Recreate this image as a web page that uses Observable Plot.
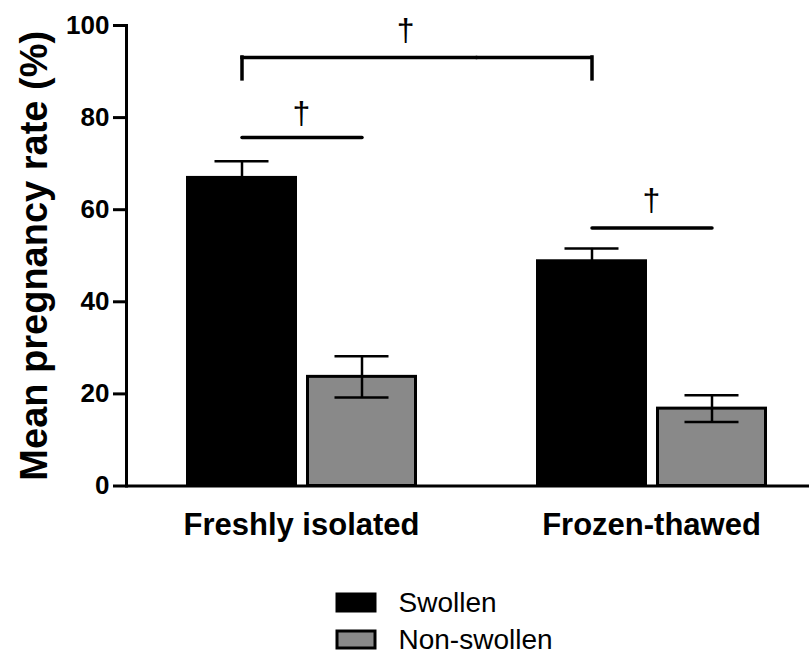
<!DOCTYPE html>
<html>
<head>
<meta charset="utf-8">
<script src="https://cdn.jsdelivr.net/npm/d3@7"></script>
<script src="https://cdn.jsdelivr.net/npm/@observablehq/plot@0.6"></script>
<style>
  body { margin: 0; background: #fff; }
  #chart { width: 809px; }
  .lg-swatches { font-family: "Liberation Sans", Arial, sans-serif; font-size: 28px; color: #000; margin-top: 4px; margin-bottom: 0; }
  .lg-swatches .lg-swatch { line-height: 37px; padding-bottom: 0; }
  .lg-swatches .lg-swatch > svg { margin-right: 24px; overflow: visible; }
  .lg-swatches .lg-swatch rect { stroke: #000; stroke-width: 3px; }
</style>
</head>
<body>
<div id="chart"></div>
<script>
// ---- data ----
const groups = ["Freshly isolated", "Frozen-thawed"];
const series = ["Swollen", "Non-swollen"];
const swollenMean = [66.9, 48.8];
const swollenSem = [3.6, 2.8];
const nonSwollenMean = [23.7, 16.8];
const nonSwollenSem = [4.5, 2.9];
const yTicks = [0, 20, 40, 60, 80, 100];
const seriesColors = ["#000000", "#898989"];
const yLabel = "Mean pregnancy rate (%)";
const sigMark = "\u2020";
// significance annotations (y values in %)
const withinBracketY = [75.7, 56.0];
const withinMarkY = [80.8, 62.0];
const acrossBracketY = 93.05;
const acrossLegBottom = 88.3;
const acrossMarkY = 98.9;

// ---- tables built from the arrays ----
const rows = groups.flatMap((g, i) => [
  {group: g, series: series[0], mean: swollenMean[i], sem: swollenSem[i]},
  {group: g, series: series[1], mean: nonSwollenMean[i], sem: nonSwollenSem[i]}
]);
const within = groups.flatMap((g, i) => series.map(s => ({id: g, group: g, series: s, y: withinBracketY[i]})));
const withinText = groups.map((g, i) => ({group: g, y: withinMarkY[i]}));
const acrossLegs = groups.map(g => ({group: g, series: series[0], y1: acrossLegBottom, y2: acrossBracketY}));
// the across-group bracket runs from the Swollen bar of the first group to the Swollen bar of the second
const acrossLeft = [{group: groups[0], from: series[0], to: series[1], y: acrossBracketY}];
const acrossRight = [{group: groups[1], from: series[0], to: series[0], y: acrossBracketY}];
const acrossText = [{group: groups[0], y: acrossMarkY}];

const font = "'Liberation Sans', Arial, Helvetica, sans-serif";
const halfBar = 54.5;   // half of a bar's width
const edgeGap = 60;     // from the outer bar edge to the facet edge

const chart = Plot.plot({
  width: 809,
  height: 580,
  marginTop: 25,
  marginBottom: 94.5,
  marginLeft: 125.5,
  marginRight: -16.5,
  style: {fontFamily: font, background: "#fff", color: "#000"},
  fx: {domain: groups, padding: 0, label: null},
  x: {domain: series, paddingInner: 0.1, paddingOuter: 0.4963, axis: null},
  y: {domain: [0, 100], axis: null},
  color: {domain: series, range: seriesColors},
  marks: [
    Plot.barY(rows, {fx: "group", x: "series", y: "mean", fill: "series", stroke: "#000", strokeWidth: 3}),
    Plot.ruleX(rows, {fx: "group", x: "series", y1: d => d.mean - d.sem, y2: d => d.mean + d.sem, stroke: "#000", strokeWidth: 2.5}),
    Plot.tickY(rows, {fx: "group", x: "series", y: d => d.mean + d.sem, insetLeft: 27, insetRight: 27, stroke: "#000", strokeWidth: 2.5}),
    Plot.tickY(rows, {fx: "group", x: "series", y: d => d.mean - d.sem, insetLeft: 27, insetRight: 27, stroke: "#000", strokeWidth: 2.5}),
    Plot.ruleY([0], {stroke: "#000", strokeWidth: 3}),
    Plot.frame({anchor: "left", facetAnchor: "left", stroke: "#000", strokeWidth: 3}),
    Plot.axisY({ticks: yTicks, tickSize: 13, tickPadding: 4, strokeWidth: 3, fontSize: 26, fontWeight: "bold", label: null}),
    Plot.axisFx({anchor: "bottom", tickSize: 0, tickPadding: 27, fontSize: 31, fontWeight: "bold", label: null}),
    // within-group comparisons
    Plot.line(within, {fx: "group", x: "series", y: "y", z: "id", stroke: "#000", strokeWidth: 3.5}),
    Plot.text(withinText, {fx: "group", y: "y", text: () => sigMark, fontSize: 32, fill: "#000"}),
    // across-group comparison
    Plot.ruleX(acrossLegs, {fx: "group", x: "series", y1: "y1", y2: "y2", stroke: "#000", strokeWidth: 3.5, strokeLinecap: "square"}),
    Plot.ruleY(acrossLeft, {fx: "group", x1: "from", x2: "to", y: "y", insetLeft: halfBar, insetRight: -edgeGap, stroke: "#000", strokeWidth: 3.5, strokeLinecap: "square"}),
    Plot.ruleY(acrossRight, {fx: "group", x1: "from", x2: "to", y: "y", insetLeft: -edgeGap, insetRight: halfBar, stroke: "#000", strokeWidth: 3.5, strokeLinecap: "square"}),
    Plot.text(acrossText, {fx: "group", y: "y", text: () => sigMark, frameAnchor: "right", dx: -62, fontSize: 32, fill: "#000"}),
    // y axis title
    Plot.text([yLabel], {text: d => d, frameAnchor: "left", facetAnchor: "left", textAnchor: "middle", rotate: -90, dx: -92, dy: 0, fontSize: 38, fontWeight: "bold", fill: "#000"})
  ]
});

const legend = chart.legend("color", {columns: 1, swatchWidth: 38, swatchHeight: 17, marginLeft: 336.5, className: "lg"});
const host = document.getElementById("chart");
host.appendChild(chart);
host.appendChild(legend);
</script>
</body>
</html>
